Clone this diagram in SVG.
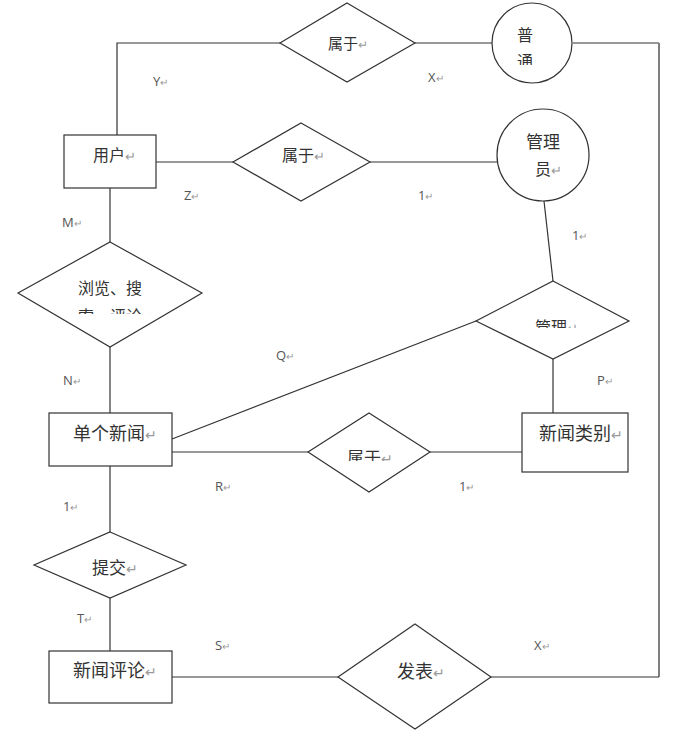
<svg xmlns="http://www.w3.org/2000/svg" width="693" height="739" viewBox="0 0 693 739">
<defs>
<style>
.s{fill:#fff;stroke:#333;stroke-width:1.2}
.c{fill:none;stroke:#333;stroke-width:1.2}
.t{font-family:"Noto Sans CJK SC","Microsoft YaHei",sans-serif;fill:#333}
.l{font-family:"Open Sans","Noto Sans",sans-serif;font-size:13px;fill:#555}
.r{fill:#999;font-size:0.8em}
</style>
<clipPath id="cp1"><rect x="480" y="0" width="100" height="65"/></clipPath>
<clipPath id="cp2"><rect x="20" y="300" width="190" height="14"/></clipPath>
<clipPath id="cp3"><rect x="480" y="300" width="150" height="28"/></clipPath>
<clipPath id="cp4"><rect x="310" y="420" width="120" height="41"/></clipPath>
</defs>
<rect width="693" height="739" fill="#fff"/>
<g id="connectors">
<polyline class="c" points="280,43 117,43 117,135"/>
<line class="c" x1="415" y1="43" x2="492" y2="43"/>
<line class="c" x1="573" y1="43" x2="659" y2="43"/>
<line x1="659" y1="43" x2="659" y2="677" stroke="#808080" stroke-width="2"/>
<line class="c" x1="491" y1="677" x2="659" y2="677"/>
<line class="c" x1="156" y1="162" x2="233" y2="162"/>
<line class="c" x1="370" y1="162" x2="497" y2="162"/>
<line class="c" x1="544" y1="201" x2="553" y2="281"/>
<line class="c" x1="110" y1="188" x2="110" y2="242"/>
<line class="c" x1="110" y1="347" x2="110" y2="413"/>
<line class="c" x1="172" y1="439" x2="476" y2="321"/>
<line class="c" x1="553" y1="359" x2="553" y2="413"/>
<line class="c" x1="172" y1="452" x2="308" y2="452"/>
<line class="c" x1="430" y1="452" x2="522" y2="452"/>
<line class="c" x1="110" y1="466" x2="110" y2="532"/>
<line class="c" x1="110" y1="598" x2="110" y2="651"/>
<line class="c" x1="172" y1="677" x2="338" y2="677"/>
</g>
<g id="belong1">
<polygon class="s" points="347,3 415,43 347,82 280,43"/>
<text class="t" x="328" y="49" font-size="15">属于<tspan class="r">↵</tspan></text>
</g>
<g id="normal">
<circle class="s" cx="532" cy="43" r="40"/>
<g clip-path="url(#cp1)">
<text class="t" x="517" y="41" font-size="16">普</text>
<text class="t" x="517" y="67" font-size="16">通</text>
</g>
</g>
<g id="user">
<rect class="s" x="64" y="135" width="92" height="53"/>
<text class="t" x="93" y="161" font-size="16">用户<tspan class="r">↵</tspan></text>
</g>
<g id="belong2">
<polygon class="s" points="301,123 370,162 301,201 233,162"/>
<text class="t" x="282" y="161" font-size="16">属于<tspan class="r">↵</tspan></text>
</g>
<g id="admin">
<circle class="s" cx="543" cy="155" r="46"/>
<text class="t" x="526" y="148" font-size="17">管理</text>
<text class="t" x="535" y="175" font-size="16">员<tspan class="r">↵</tspan></text>
</g>
<g id="browse">
<polygon class="s" points="110,242 202,293 110,347 18,293"/>
<text class="t" x="78" y="294" font-size="16">浏览、搜</text>
<text class="t" x="78" y="322" font-size="16" clip-path="url(#cp2)">索、评论<tspan class="r">↵</tspan></text>
</g>
<g id="manage">
<polygon class="s" points="553,281 629,321 553,359 476,321"/>
<text class="t" x="535" y="333" font-size="16" clip-path="url(#cp3)">管理<tspan class="r">↵</tspan></text>
</g>
<g id="news">
<rect class="s" x="49" y="413" width="123" height="53"/>
<text class="t" x="73" y="440" font-size="18">单个新闻<tspan class="r">↵</tspan></text>
</g>
<g id="category">
<rect class="s" x="522" y="413" width="106" height="59"/>
<text class="t" x="539" y="440" font-size="18">新闻类别<tspan class="r">↵</tspan></text>
</g>
<g id="belong3">
<polygon class="s" points="369,413 430,452 369,492 308,452"/>
<text class="t" x="347" y="464" font-size="17" clip-path="url(#cp4)">属于<tspan class="r">↵</tspan></text>
</g>
<g id="submit">
<polygon class="s" points="110,532 186,565 110,598 34,565"/>
<text class="t" x="92" y="574" font-size="17">提交<tspan class="r">↵</tspan></text>
</g>
<g id="comment">
<rect class="s" x="49" y="651" width="123" height="52"/>
<text class="t" x="73" y="677" font-size="18">新闻评论<tspan class="r">↵</tspan></text>
</g>
<g id="publish">
<polygon class="s" points="415,624 491,677 415,729 338,677"/>
<text class="t" x="397" y="678" font-size="18">发表<tspan class="r">↵</tspan></text>
</g>
<g id="labels">
<text class="l" x="153" y="86">Y<tspan class="r">↵</tspan></text>
<text class="l" x="428" y="82">X<tspan class="r">↵</tspan></text>
<text class="l" x="184" y="200">Z<tspan class="r">↵</tspan></text>
<text class="l" x="418" y="200">1<tspan class="r">↵</tspan></text>
<text class="l" x="62" y="227">M<tspan class="r">↵</tspan></text>
<text class="l" x="572" y="240">1<tspan class="r">↵</tspan></text>
<text class="l" x="276" y="360">Q<tspan class="r">↵</tspan></text>
<text class="l" x="63" y="385">N<tspan class="r">↵</tspan></text>
<text class="l" x="597" y="385">P<tspan class="r">↵</tspan></text>
<text class="l" x="215" y="491">R<tspan class="r">↵</tspan></text>
<text class="l" x="459" y="491">1<tspan class="r">↵</tspan></text>
<text class="l" x="63" y="511">1<tspan class="r">↵</tspan></text>
<text class="l" x="77" y="623">T<tspan class="r">↵</tspan></text>
<text class="l" x="215" y="650">S<tspan class="r">↵</tspan></text>
<text class="l" x="534" y="650">X<tspan class="r">↵</tspan></text>
</g>
</svg>
